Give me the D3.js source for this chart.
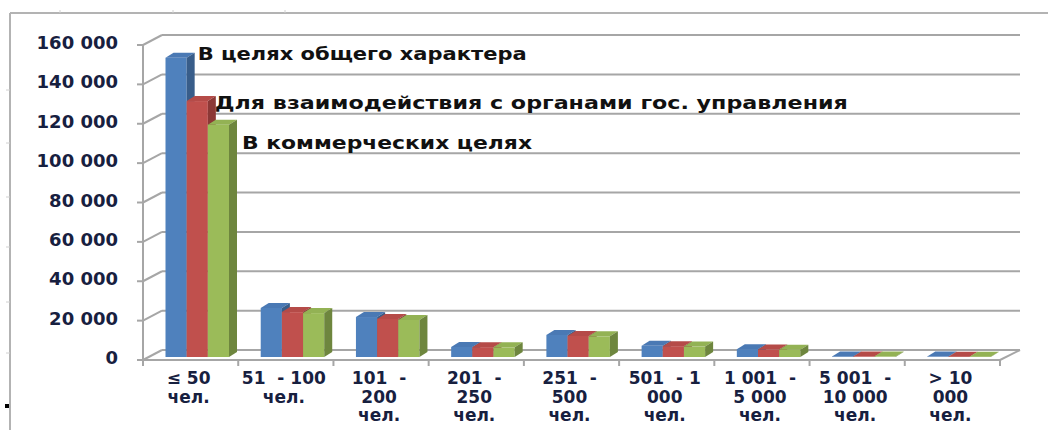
<!DOCTYPE html>
<html>
  <head>
    <meta charset="utf-8">
    <title>Bars</title>
    <script src="https://d3js.org/d3.v7.min.js"></script>
    <style>
      body { margin: 0; background: #ffffff; }
      text { font-family: "DejaVu Sans", Verdana, sans-serif; font-weight: bold; }
    </style>
  </head>
  <body>
<script>
// categories (each label split in lines as on the axis)
var categories = [
  ["≤ 50", "чел."],
  ["51  - 100", "чел."],
  ["101  -", "200", "чел."],
  ["201  -", "250", "чел."],
  ["251  -", "500", "чел."],
  ["501  - 1", "000", "чел."],
  ["1 001  -", "5 000", "чел."],
  ["5 001  -", "10 000", "чел."],
  ["> 10", "000", "чел."]
];
var seriesNames = ["В целях общего характера", "Для взаимодействия с органами гос. управления", "В коммерческих целях"];
var generalValues    = [152000, 24900, 20300, 5100, 11200, 5700, 4000, 250, 200];
var govValues        = [130000, 22800, 19300, 5000, 10700, 5500, 3800, 220, 180];
var commercialValues = [118000, 22300, 18800, 4900, 10500, 5300, 3700, 200, 160];
var yTicks = [0, 20000, 40000, 60000, 80000, 100000, 120000, 140000, 160000];

var series = [generalValues, govValues, commercialValues];
var fronts = ["#4f81bd", "#c0504d", "#9bbb59"];
var tops   = ["#4a79b4", "#b54b48", "#93b254"];
var sides  = ["#385d8a", "#8c3836", "#6e863e"];

var w = 1048, h = 430;
var svg = d3.select("body").append("svg").attr("width", w).attr("height", h);

// wall depth and bar depth
var wdx = 19, wdy = -10;
var bdx = 8, bdy = -5;
var bshift = -3;

var x = d3.scaleBand().domain(d3.range(categories.length)).range([143, 1000]);
var xs = d3.scaleBand().domain([0, 1, 2]).range([22.5, 86]);
var y = d3.scaleLinear().domain([0, 160000]).range([360, 45]);
var fmt = function(v) { return d3.format(",")(v).replace(/,/g, " "); };

// outer frame (screenshot edges)
var frame = svg.append("g").attr("stroke", "#b3b3b3").attr("fill", "none");
frame.append("line").attr("x1", 10).attr("x2", w).attr("y1", 13).attr("y2", 13).attr("stroke-width", 2);
frame.append("line").attr("x1", 10).attr("x2", 10).attr("y1", 13).attr("y2", h).attr("stroke-width", 2);
frame.selectAll(".tt").data([60, 173, 285]).enter().append("line")
  .attr("x1", function(d) { return d; }).attr("x2", function(d) { return d; })
  .attr("y1", 10).attr("y2", 13).attr("stroke", "#d0d0d0");
frame.selectAll(".lt").data([90, 143, 197, 247, 302, 353]).enter().append("line")
  .attr("x1", 6).attr("x2", 10)
  .attr("y1", function(d) { return d; }).attr("y2", function(d) { return d; })
  .attr("stroke", "#d0d0d0");
svg.append("rect").attr("x", 5).attr("y", 404).attr("width", 4).attr("height", 4).attr("fill", "#000");

// walls
var grid = svg.append("g").attr("stroke", "#a6a6a6").attr("stroke-width", 2).attr("fill", "none");
grid.selectAll(".back").data(yTicks).enter().append("line")
  .attr("x1", 143 + wdx).attr("x2", 1020)
  .attr("y1", function(d) { return y(d) + wdy; }).attr("y2", function(d) { return y(d) + wdy; });
grid.selectAll(".side").data(yTicks).enter().append("line")
  .attr("x1", 143).attr("x2", 143 + wdx)
  .attr("y1", function(d) { return y(d); }).attr("y2", function(d) { return y(d) + wdy; });
grid.selectAll(".ytick").data(yTicks).enter().append("line")
  .attr("x1", 137).attr("x2", 143)
  .attr("y1", function(d) { return y(d); }).attr("y2", function(d) { return y(d); });
grid.append("line").attr("x1", 143).attr("x2", 143).attr("y1", y(160000)).attr("y2", y(0));

// bars
var bw = xs.bandwidth();
series.forEach(function(vals, s) {
  var g = svg.append("g");
  var bx = function(i) { return x(i) + xs(s); };
  var by = function(v) { return y(v) + bshift; };
  var base = y(0) + bshift;
  g.selectAll(".front").data(vals).enter().append("rect")
    .attr("x", function(d, i) { return bx(i); })
    .attr("y", function(d) { return by(d); })
    .attr("width", bw)
    .attr("height", function(d) { return base - by(d); })
    .attr("fill", fronts[s]);
  g.selectAll(".top").data(vals).enter().append("polygon")
    .attr("points", function(d, i) {
      var x0 = bx(i), t = by(d);
      return [[x0, t], [x0 + bw, t], [x0 + bw + bdx, t + bdy], [x0 + bdx, t + bdy]].join(" ");
    })
    .attr("fill", tops[s]);
  g.selectAll(".side").data(vals).enter().append("polygon")
    .attr("points", function(d, i) {
      var x1 = bx(i) + bw, t = by(d);
      return [[x1, t], [x1 + bdx, t + bdy], [x1 + bdx, base + bdy], [x1, base]].join(" ");
    })
    .attr("fill", sides[s]);
});

// floor front edges and category ticks
var floor = svg.append("g").attr("stroke", "#a6a6a6").attr("stroke-width", 2).attr("fill", "none");
floor.append("line").attr("x1", 143).attr("x2", 1000).attr("y1", y(0)).attr("y2", y(0));
floor.append("line").attr("x1", 1000).attr("x2", 1020).attr("y1", y(0)).attr("y2", y(0) + wdy);
floor.selectAll(".xt").data(d3.range(categories.length + 1)).enter().append("line")
  .attr("x1", function(d) { return 143 + d * x.bandwidth(); })
  .attr("x2", function(d) { return 143 + d * x.bandwidth(); })
  .attr("y1", y(0)).attr("y2", y(0) + 6);

// y labels
svg.selectAll(".ylab").data(yTicks).enter().append("text")
  .attr("x", 118).attr("y", function(d) { return y(d) + 4; })
  .attr("text-anchor", "end").attr("font-size", 18).attr("fill", "#17203f")
  .text(fmt);

// x labels
var xl = svg.selectAll(".xlab").data(categories).enter().append("text")
  .attr("text-anchor", "middle").attr("font-size", 17).attr("fill", "#17203f")
  .attr("transform", function(d, i) { return "translate(" + (x(i) + x.bandwidth() / 2 - 2) + ",384)"; });
xl.selectAll("tspan").data(function(d) { return d; }).enter().append("tspan")
  .attr("x", 0).attr("y", function(d, i) { return i * 18.5; })
  .attr("xml:space", "preserve").style("white-space", "pre")
  .text(function(d) { return d; });

// series names next to the first group
var nameDx = [3, -1, 5];
var nameDy = [-0.5, 5, 21];
var nameLen = [329, 633, 290];
svg.selectAll(".sname").data(seriesNames).enter().append("text")
  .attr("x", function(d, s) { return x(0) + xs(s) + bw + bdx + nameDx[s]; })
  .attr("y", function(d, s) { return y(series[s][0]) + nameDy[s]; })
  .attr("font-size", 18).attr("fill", "#111")
  .attr("textLength", function(d, s) { return nameLen[s]; })
  .attr("lengthAdjust", "spacingAndGlyphs")
  .text(function(d) { return d; });
</script>
  </body>
</html>
